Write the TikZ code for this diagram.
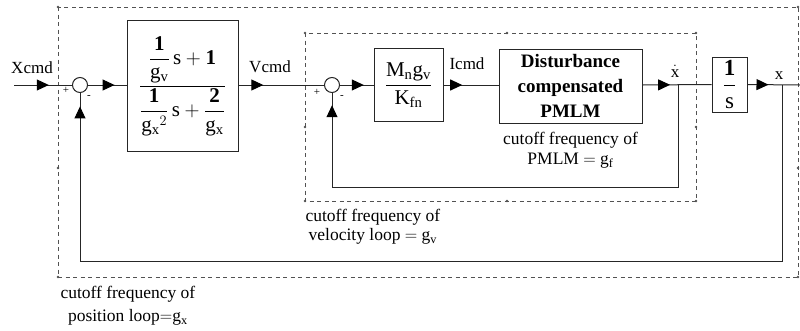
\documentclass[tikz,border=0pt]{standalone}
\usepackage{amsmath}
\usepackage{fontspec}
\setmainfont{Liberation Serif}
\setmathrm{Liberation Serif}
\usetikzlibrary{positioning,arrows.meta,decorations.markings}
\definecolor{bdline}{gray}{0.15}
\definecolor{bddash}{gray}{0.32}
\newcommand{\rmv}[1]{\mathrm{#1}}
\newcommand{\bdig}[1]{\text{\bfseries #1}}

\begin{document}
\begin{tikzpicture}[x=1pt, y=-1pt, line width=1pt,
  font=\fontsize{17}{20}\selectfont,
  blk/.style={draw=bdline, inner sep=0pt, font=\fontsize{21}{25}\selectfont},
  sumpt/.style={circle, draw=bdline, minimum size=15pt, inner sep=0pt},
  sgn/.style={font=\fontsize{11}{11}\selectfont, inner sep=0pt},
  sigl/.style={anchor=base, inner sep=0pt},
  loopbox/.style={draw=bddash, dash pattern=on 4pt off 3.5pt, line width=0.9pt},
  note/.style={align=center, inner sep=0pt, font=\fontsize{17.5}{19}\selectfont},
  midarrow/.style={draw=bdline, postaction={decorate}, decoration={markings,
     mark=at position #1 with {\arrow[black]{Triangle[length=12pt,width=11pt]}}}}]
  \useasboundingbox (0,0) rectangle (800,330);
  % loop boundaries
  \coordinate (pnw) at (58,7);   \coordinate (pse) at (798,277);
  \coordinate (psw) at (58,277);
  \coordinate (vnw) at (305,33); \coordinate (vse) at (696,201);
  \coordinate (vsw) at (305,201);
  \draw[loopbox] (pnw) rectangle (pse);
  \draw[loopbox] (vnw) rectangle (vse);
  \foreach \p in {(58,7),(798,7),(58,277),(798,277),(58,168),(798,168),
                  (305,33),(696,33),(305,201),(696,201),(305,127),(696,127),
                  (507,33),(507,201)}
    \fill[bddash] \p circle (1.3pt);
  % blocks
  \coordinate (in) at (14,85);
  \node[sumpt] (s1) at (80,85) {};
  \node[blk, minimum width=111pt, minimum height=131pt] (tfx) at (182.5,86)
    {$\dfrac{\dfrac{\bdig{1}}{\rmv{g}_{\rmv{v}}}\,\rmv{s}+\bdig{1}}
            {\dfrac{\bdig{1}}{\rmv{g}_{\rmv{x}}{}^{2}}\,\rmv{s}+\dfrac{\bdig{2}}{\rmv{g}_{\rmv{x}}}}$};
  \node[sumpt] (s2) at (332,85) {};
  \node[blk, minimum width=69pt, minimum height=73pt] (kv) at (408.5,85)
    {$\dfrac{\rmv{M}_{\rmv{n}}\rmv{g}_{\rmv{v}}}{\rmv{K}_{\rmv{fn}}}$};
  \node[blk, minimum width=143pt, minimum height=74pt, align=center,
        font=\fontsize{19}{25}\selectfont\bfseries] (plant) at (570.5,86)
    {Disturbance\\compensated\\PMLM};
  \node[blk, minimum width=35pt, minimum height=55pt,
        font=\fontsize{23}{27}\selectfont] (intg) at (729.5,84.5)
    {$\dfrac{\bdig{1}}{\rmv{s}}$};
  \coordinate (vbr) at (678,85);
  \coordinate (xbr) at (782,85);
  \coordinate (out) at (800,85);
  \coordinate (vfb) at (332,187);
  \coordinate (pfb) at (80,261);
  % forward path
  \draw[midarrow=0.60] (in) -- (s1.west);
  \draw[midarrow=0.69] (s1.east) -- (s1.east -| tfx.west);
  \draw[midarrow=0.29] (s2.west -| tfx.east) -- (s2.west);
  \draw[midarrow=0.71] (s2.east) -- (kv.west);
  \draw[midarrow=0.34] (kv.east) -- (kv.east -| plant.west);
  \draw[midarrow=0.40] (kv.east -| plant.east) -- (intg.west);
  \draw[midarrow=0.40] (intg.east) -- (out);
  % feedback paths
  \draw[bdline] (vbr) |- (vfb);
  \draw[midarrow=0.87] (vfb) -- (s2.south);
  \draw[bdline] (xbr) |- (pfb);
  \draw[midarrow=0.92] (pfb) -- (s1.south);
  % signal names and signs
  \node[sigl] (lxc) at (32,73) {Xcmd};
  \node[sigl] (lvc) at (270,72) {Vcmd};
  \node[sigl] (lic) at (467,69) {Icmd};
  \node[sigl] (lxd) at (675,77) {$\dot{\rmv{x}}$};
  \node[sigl] (lx) at (779,79) {x};
  \node[sgn] (p1) at (66,90) {+};
  \node[sgn] (m1) at (89,97) {-};
  \node[sgn] (p2) at (317,92) {+};
  \node[sgn] (m2) at (342,97) {-};
  % cutoff notes
  \node[note, below=8pt of plant] (nf)
    {cutoff frequency of\\[1pt]PMLM $=$ g$_{\rmv{f}}$};
  \node[note, below right=8pt and 0pt of vsw] (nv)
    {cutoff frequency of\\velocity loop $=$ g$_{\rmv{v}}$};
  \node[note, below right=9pt and 2pt of psw] (np)
    {cutoff frequency of\\[4pt]position loop$=$g$_{\rmv{x}}$};
\end{tikzpicture}
\end{document}
